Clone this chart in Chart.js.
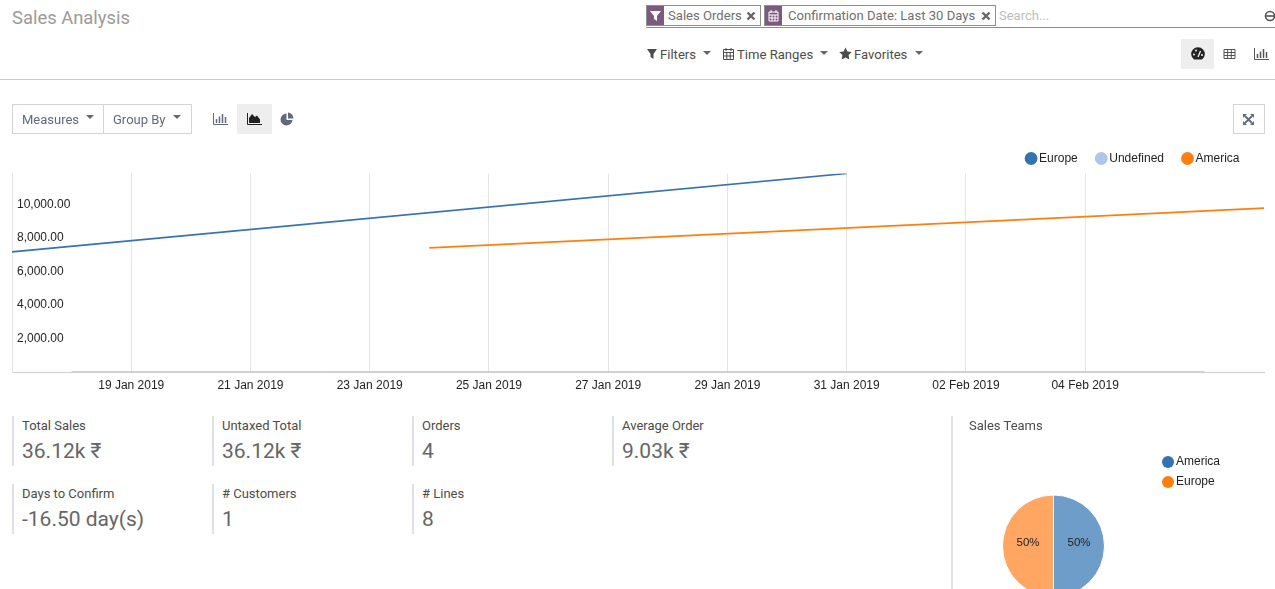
<!DOCTYPE html>
<html><head><meta charset="utf-8">
<script src="https://cdn.jsdelivr.net/npm/chart.js@4/dist/chart.umd.min.js"></script>
<style>
html,body{margin:0;padding:0;width:1275px;height:589px;overflow:hidden;background:#fff;font-family:Roboto,sans-serif;color:#4c4c4c}
.a{position:absolute;white-space:nowrap}
canvas{position:absolute}
.tile{position:absolute;border-left:2px solid #dee2e6;height:50px;padding-left:8px;width:180px}
.tile .t{font-size:13px;line-height:18px;color:#4c4c4c;margin-top:1px}
.tile .v{font-size:21px;line-height:30px;color:#666;margin-top:1px}
.facet{position:absolute;top:5px;height:19px;border:1px solid #8f8f8f;font-size:13.1px;line-height:19px;color:#6f6f6f;white-space:nowrap}
.facet i{position:absolute;left:0;top:0;width:17px;height:19px;background:#7c5a7f}
.facet span{position:absolute;left:21px;top:0}
.mi{position:absolute;font-size:13.1px;color:#4c4c4c;white-space:nowrap}
.caret{position:absolute;width:0;height:0;border-left:4px solid transparent;border-right:4px solid transparent;border-top:4px solid #666}
svg{position:absolute}
</style></head><body>
<canvas id="line"></canvas>
<canvas id="pie"></canvas>

<div class="a" style="left:12px;top:7px;font-size:18.4px;line-height:22px;color:#9c9a98">Sales Analysis</div>

<div class="facet" style="left:646px;width:113px"><i></i><span>Sales Orders</span>
<svg style="left:2px;top:3px" width="13" height="13" viewBox="0 0 13 13"><path d="M1 2h11L8 7v5L5 10V7z" fill="#fff"/></svg>
<svg style="left:99px;top:5px" width="10" height="10" viewBox="0 0 10 10"><path d="M1.500 1.500l7 7M8.500 1.500l-7 7" stroke="#666" stroke-width="2.400"/></svg></div>
<div class="facet" style="left:764px;width:230px"><i></i><span style="left:23px">Confirmation Date: Last 30 Days</span>
<svg style="left:2px;top:3px" width="13" height="13" viewBox="0 0 13 13"><path d="M2 3h9v9H2z M2 6h9 M5 6v6 M8 6v6 M2 9h9 M4 1v3 M9 1v3" stroke="#fff" stroke-width="1" fill="none"/></svg>
<svg style="left:216px;top:5px" width="10" height="10" viewBox="0 0 10 10"><path d="M1.500 1.500l7 7M8.500 1.500l-7 7" stroke="#666" stroke-width="2.400"/></svg></div>
<div class="a" style="left:999px;top:7px;font-size:13px;line-height:18px;color:#bdbdbd">Search...</div>
<svg style="left:1264px;top:10px" width="11" height="12" viewBox="0 0 11 12"><circle cx="6" cy="6" r="4.500" fill="none" stroke="#555" stroke-width="1.600"/><path d="M2 6h8" stroke="#555" stroke-width="1.600"/></svg>
<div class="a" style="left:646px;top:27px;width:629px;height:1px;background:#8f8f8f"></div>

<svg style="left:646px;top:48px" width="12" height="12" viewBox="0 0 12 12"><path d="M1 1h10L7.500 6v5L4.500 9V6z" fill="#4c4c4c"/></svg>
<div class="mi" style="left:660px;top:47px">Filters</div><div class="caret" style="left:703px;top:51px"></div>
<svg style="left:722px;top:47px" width="13" height="14" viewBox="0 0 13 14"><path d="M1.500 2.500h10v10h-10z M1.500 5.500h10 M4.800 5.500v7 M8.200 5.500v7 M1.500 9h10 M4 1v3 M9 1v3" stroke="#4c4c4c" stroke-width="1" fill="none"/></svg>
<div class="mi" style="left:737px;top:47px">Time Ranges</div><div class="caret" style="left:820px;top:51px"></div>
<svg style="left:839px;top:47px" width="13" height="13" viewBox="0 0 13 13"><path d="M6.500 .5l1.900 4 4.300.6-3.100 3 .7 4.400-3.800-2.100-3.800 2.100.7-4.400-3.100-3 4.300-.6z" fill="#4c4c4c"/></svg>
<div class="mi" style="left:854px;top:47px">Favorites</div><div class="caret" style="left:915px;top:51px"></div>

<div class="a" style="left:1181px;top:39px;width:33px;height:30px;background:#eee"></div>
<svg style="left:1191px;top:47px" width="14" height="13" viewBox="0 0 14 13"><path d="M3 12.500A6.800 6.800 0 1 1 11 12.500z" fill="#222"/><path d="M7 10L9.500 4" stroke="#eee" stroke-width="1.300"/><circle cx="3" cy="7.500" r="1" fill="#eee"/><circle cx="5" cy="3.500" r="1" fill="#eee"/><circle cx="11" cy="8" r="1" fill="#eee"/></svg>
<svg style="left:1223px;top:48px" width="13" height="12" viewBox="0 0 13 12"><path d="M1 1.500h11v9H1z M1 4.500h11 M1 7.500h11 M4.600 1.500v9 M8.300 1.500v9" stroke="#555" stroke-width="1" fill="none"/></svg>
<svg style="left:1254px;top:48px" width="15" height="12" viewBox="0 0 15 12"><path d="M.5 0v11.500H15" stroke="#555" fill="none"/><path d="M3.500 6v4M6.500 3.500v6.500M9.500 1v9M12.500 4v6" stroke="#555" stroke-width="1.500"/></svg>
<div class="a" style="left:0;top:79px;width:1275px;height:1px;background:#ccc"></div>

<div class="a" style="left:12px;top:104px;width:178px;height:28px;border:1px solid #d4d4d4"></div>
<div class="a" style="left:103px;top:104px;width:1px;height:30px;background:#d4d4d4"></div>
<div class="a" style="left:22px;top:111px;font-size:13px;line-height:18px;color:#5f6a7c">Measures</div><div class="caret" style="left:86px;top:115px"></div>
<div class="a" style="left:113px;top:111px;font-size:13px;line-height:18px;color:#5f6a7c">Group By</div><div class="caret" style="left:173px;top:115px"></div>
<svg style="left:213px;top:113px" width="15" height="12" viewBox="0 0 15 12"><path d="M.5 0v11.500H15" stroke="#5f6a7c" fill="none"/><path d="M3.500 6v4M6.500 3.500v6.500M9.500 1v9M12.500 4v6" stroke="#5f6a7c" stroke-width="1.500"/></svg>
<div class="a" style="left:237px;top:104px;width:35px;height:30px;background:#eee"></div>
<svg style="left:247px;top:113px" width="15" height="12" viewBox="0 0 15 12"><path d="M.5 0v11.500H15" stroke="#222" fill="none"/><path d="M2 10V5l3-4 3 3 2-1.500 3 4v3.500z" fill="#222"/></svg>
<svg style="left:280px;top:112px" width="14" height="14" viewBox="0 0 14 14"><path d="M6.500 1.500A6 6 0 1 0 12.500 8H6.500z" fill="#5f6a7c"/><path d="M8 0.500A6 6 0 0 1 13.500 6.500H8z" fill="#5f6a7c"/></svg>
<div class="a" style="left:1233px;top:104px;width:30px;height:28px;border:1px solid #d4d4d4"></div>
<svg style="left:1242px;top:113px" width="13" height="13" viewBox="0 0 13 13"><path d="M1 1h4L1 5zM12 1H8l4 4zM1 12h4L1 8zM12 12H8l4-4z" fill="#5f6a7c"/><path d="M3 3l7 7M10 3l-7 7" stroke="#5f6a7c" stroke-width="1.800"/></svg>

<div class="tile" style="left:12px;top:416px"><div class="t">Total Sales</div><div class="v">36.12k ₹</div></div>
<div class="tile" style="left:212px;top:416px"><div class="t">Untaxed Total</div><div class="v">36.12k ₹</div></div>
<div class="tile" style="left:412px;top:416px"><div class="t">Orders</div><div class="v">4</div></div>
<div class="tile" style="left:612px;top:416px"><div class="t">Average Order</div><div class="v">9.03k ₹</div></div>
<div class="tile" style="left:12px;top:484px"><div class="t">Days to Confirm</div><div class="v">-16.50 day(s)</div></div>
<div class="tile" style="left:212px;top:484px"><div class="t"># Customers</div><div class="v">1</div></div>
<div class="tile" style="left:412px;top:484px"><div class="t"># Lines</div><div class="v">8</div></div>
<div class="tile" style="left:951px;top:416px;height:173px;padding-left:16px"><div class="t">Sales Teams</div></div>

<script>
const categories = ['17 Jan 2019','18 Jan 2019','19 Jan 2019','20 Jan 2019','21 Jan 2019','22 Jan 2019','23 Jan 2019','24 Jan 2019','25 Jan 2019','26 Jan 2019','27 Jan 2019','28 Jan 2019','29 Jan 2019','30 Jan 2019','31 Jan 2019','01 Feb 2019','02 Feb 2019','03 Feb 2019','04 Feb 2019','05 Feb 2019','06 Feb 2019','07 Feb 2019'];
const europeValues = [7170,null,null,null,null,null,null,null,null,null,null,null,null,null,11850,null,null,null,null,null,null,null];
const undefinedValues = [null,0,null,null,null,null,null,null,null,null,null,null,null,null,null,null,null,null,null,null,0,null];
const americaValues = [null,null,null,null,null,null,null,7407,null,null,null,null,null,null,null,null,null,null,null,null,null,9778];
const xTickLabels = ['19 Jan 2019','21 Jan 2019','23 Jan 2019','25 Jan 2019','27 Jan 2019','29 Jan 2019','31 Jan 2019','02 Feb 2019','04 Feb 2019'];
const yTickValues = [2000,4000,6000,8000,10000];
const yMax = 11850;
const pieLabels = ['America','Europe'];
const pieValues = [50,50];

const FONT = {family:'"Liberation Sans",Arial,sans-serif',size:12};
const BLUE='#3572b0', LIGHT='#aec7e8', ORANGE='#ff7f0e';
const LINE_TOP=100;
function place(id,l,t,w,h){const c=document.getElementById(id);c.style.left=l+'px';c.style.top=t+'px';c.style.width=w+'px';c.style.height=h+'px';return c;}

const nudgeLegend={id:'nudgeLegend',afterLayout(chart){const lg=chart.legend;lg.right=1261;lg.top=152-LINE_TOP-21;lg.bottom=lg.top+60;}};
const lineCanvas=place('line',0,LINE_TOP,1275,300);
const common={spanGaps:true,pointRadius:0,pointHoverRadius:0,tension:0,fill:false};
new Chart(lineCanvas,{type:'line',
 data:{labels:categories,datasets:[
  {label:'Europe',data:europeValues,borderColor:BLUE,backgroundColor:BLUE,borderWidth:1.7,...common},
  {label:'Undefined',data:undefinedValues,borderColor:LIGHT,backgroundColor:LIGHT,borderWidth:1.7,...common},
  {label:'America',data:americaValues,borderColor:ORANGE,backgroundColor:ORANGE,borderWidth:1.7,...common}]},
 plugins:[nudgeLegend],
 options:{responsive:false,animation:false,devicePixelRatio:1,
  layout:{padding:{left:12,right:11,top:30,bottom:0}},
  plugins:{tooltip:{enabled:false},
   legend:{position:'top',align:'end',labels:{usePointStyle:true,pointStyle:'circle',boxWidth:4,boxHeight:7.9,padding:21.5,color:'#222',font:FONT}}},
  scales:{
   x:{type:'category',offset:false,
    grid:{display:true,color:'#e4e4e4',lineWidth:1,drawTicks:false},
    border:{display:true,color:'#cfcfcf'},
    afterBuildTicks(s){s.ticks=xTickLabels.map(l=>({value:categories.indexOf(l)}));},
    afterFit(s){s.height=28;},
    ticks:{autoSkip:false,maxRotation:0,minRotation:0,padding:6,color:'#222',font:FONT,callback(v){return categories[v];}}},
   y:{min:0,max:yMax,
    grid:{display:false},
    border:{display:true,color:'#e4e4e4'},
    afterBuildTicks(s){s.ticks=yTickValues.map(v=>({value:v}));},
    afterFit(s){s.width=0;},
    ticks:{mirror:true,padding:5,color:'#222',font:FONT,callback(v){return v.toLocaleString('en-US',{minimumFractionDigits:2,maximumFractionDigits:2});}}}
  }}});

const pieCanvas=place('pie',951,445,323,202);
const pieLegendPlace={id:'pieLegendPlace',afterLayout(chart){const lg=chart.legend;lg.left=1162-951-4;lg.top=461-7-445-6;lg.right=323;lg.bottom=100;}};
const pctLabels={id:'pctLabels',afterDatasetsDraw(chart){const {ctx}=chart;const meta=chart.getDatasetMeta(0);const total=pieValues.reduce((a,b)=>a+b,0);ctx.save();ctx.font='11.5px "Liberation Sans",Arial,sans-serif';ctx.fillStyle='#222';ctx.textAlign='center';ctx.textBaseline='middle';
 meta.data.forEach((arc,i)=>{const p=arc.getProps(['x','y','startAngle','endAngle','outerRadius']);const mid=(p.startAngle+p.endAngle)/2;const r=p.outerRadius*0.5;ctx.fillText(Math.round(pieValues[i]/total*100)+'%',p.x+Math.cos(mid)*r,p.y+Math.sin(mid)*r-3.5);});ctx.restore();}};
new Chart(pieCanvas,{type:'pie',
 data:{labels:pieLabels,datasets:[{data:pieValues,backgroundColor:['#6f9dc9','#ffa662'],borderColor:'#fff',borderWidth:1}]},
 plugins:[pieLegendPlace,pctLabels],
 options:{responsive:false,animation:false,devicePixelRatio:1,radius:51,
  layout:{padding:{right:46}},
  plugins:{tooltip:{enabled:false},
   legend:{position:'right',align:'start',labels:{usePointStyle:true,pointStyle:'circle',boxWidth:4,boxHeight:8.5,padding:8,color:'#222',font:FONT,
    generateLabels(chart){return pieLabels.map((t,i)=>({text:t,fillStyle:[BLUE,ORANGE][i],strokeStyle:[BLUE,ORANGE][i],pointStyle:'circle',lineWidth:0,index:i,hidden:false,fontColor:'#222'}));}}}}}});
</script>
</body></html>
